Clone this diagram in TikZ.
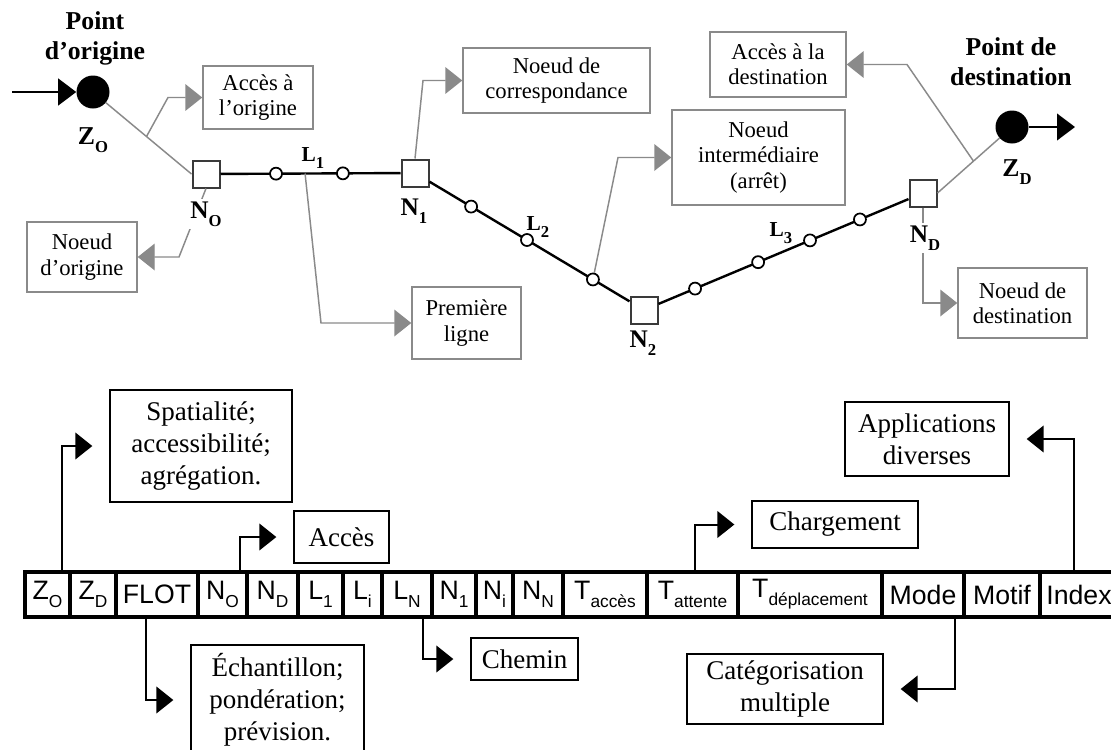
\documentclass[tikz,border=0pt]{standalone}
\usepackage{fontspec}
\setmainfont{Liberation Serif}
\newfontfamily\arialf{Liberation Sans}
\usetikzlibrary{arrows.meta,calc}
\definecolor{cgray}{HTML}{8A8A8A}
\definecolor{sqgray}{HTML}{3A3A3A}
\newcommand\tsub[1]{\raisebox{-0.3em}{\fontsize{13}{13}\selectfont #1}}
\newcommand\lsub[1]{\raisebox{-0.3em}{\fontsize{12.5}{12.5}\selectfont #1}}
\begin{document}
\begin{tikzpicture}[x=0.75pt,y=-0.75pt,
  topbox/.style={draw=cgray, line width=1.1pt, align=center, inner sep=0pt, font=\fontsize{17}{19}\selectfont},
  botbox/.style={draw=black, line width=1.5pt, align=center, inner sep=0pt, font=\fontsize{20.25}{24}\selectfont},
  glink/.style={draw=cgray, line width=1.1pt},
  garrow/.style={glink, -{Triangle[length=12.75pt,width=20pt]}},
  barrow/.style={draw=black, line width=1.5pt, -{Triangle[length=12.75pt,width=20pt]}, shorten >=12.5pt},
  karrow/.style={draw=black, line width=1.5pt, -{Triangle[length=13.5pt,width=20pt]}},
  bigdot/.style={circle, fill=black, inner sep=0pt, minimum size=24.75pt},
  netsq/.style={draw=sqgray, fill=white, line width=1.5pt, inner sep=0pt, minimum size=20.25pt},
  stopc/.style={circle, draw=black, fill=white, line width=1.3pt, inner sep=0pt, minimum size=9pt},
  netline/.style={draw=black, line width=1.8pt},
  blab/.style={font=\bfseries\fontsize{19.3}{22.5}\selectfont, align=center, inner sep=1pt},
  nlab/.style={font=\bfseries\fontsize{19}{19}\selectfont, inner sep=2pt, fill=white},
  llab/.style={font=\bfseries\fontsize{16}{16}\selectfont, inner sep=1pt},
  tcell/.style={draw=black, line width=2.4pt, inner sep=0pt, minimum height=33.75pt, font=\arialf\fontsize{20}{20}\selectfont},
]
\useasboundingbox (0,0) rectangle (1111,750);

% ---------- network ----------
\node[bigdot] (ZO) at (93,92) {};
\node[bigdot] (ZD) at (1012,127) {};
\node[netsq] (NO) at (206,174) {};
\node[netsq] (N1) at (415,173) {};
\node[netsq] (N2) at (644,310) {};
\node[netsq] (ND) at (923,193) {};

\draw[netline] (NO) -- (N1);
\draw[netline] (N1) -- (N2);
\draw[netline] (N2) -- (ND);

\node[stopc] (c1) at ($(NO)!0.335!(N1)$) {};
\node[stopc] (c2) at ($(NO)!0.655!(N1)$) {};
\node[stopc] (c3) at ($(N1)!0.245!(N2)$) {};
\node[stopc] (c4) at ($(N1)!0.489!(N2)$) {};
\node[stopc] (c5) at ($(N1)!0.777!(N2)$) {};
\node[stopc] (c6) at ($(N2)!0.183!(ND)$) {};
\node[stopc] (c7) at ($(N2)!0.409!(ND)$) {};
\node[stopc] (c8) at ($(N2)!0.595!(ND)$) {};
\node[stopc] (c9) at ($(N2)!0.774!(ND)$) {};

\coordinate (inO) at (12,92);
\coordinate (outD) at (1075,127);
\draw[karrow] (inO) -- (ZO);
\draw[karrow] (ZD) -- (outD);

% ---------- top boxes ----------
\node[topbox, minimum width=82.5pt, minimum height=47.25pt] (accO) at (258,97.5) {Accès à\\l’origine};
\node[topbox, minimum width=140.25pt, minimum height=48.75pt] (corr) at (556.5,80.5) {Noeud de\\correspondance};
\node[topbox, minimum width=102pt, minimum height=48.75pt] (accD) at (778,64.5) {Accès à la\\destination};
\node[topbox, minimum width=129.75pt, minimum height=71.25pt] (inter) at (758.5,157.5) {Noeud\\intermédiaire\\(arrêt)};
\node[topbox, minimum width=82.5pt, minimum height=52.5pt] (origN) at (82,257) {Noeud\\d’origine};
\node[topbox, minimum width=81.75pt, minimum height=54pt] (prem) at (466.5,323) {Première\\ligne};
\node[topbox, minimum width=96.75pt, minimum height=52.5pt] (destN) at (1022.5,303) {Noeud de\\destination};

% ---------- gray connectors ----------
\draw[glink] (ZO) -- (NO.west);
\coordinate (bO) at ($(ZO)!0.543!(NO.west)$);
\draw[garrow] (bO) -- (168,97.5) -- (accO.west);

\draw[garrow] (NO.south) -- (179,257) -- (origN.east);

\coordinate (bL1) at ($(NO)!0.474!(N1)$);
\draw[garrow] (bL1) -- (321,323) -- (prem.west);

\draw[garrow] (N1.north) -- (423,80.5) -- (corr.west);

\draw[garrow] (c5) -- (618,157.5) -- (inter.west);

\draw[garrow] (ND.south) -- (923,303) -- (destN.west);

\draw[glink] (ND.east) -- (ZD);
\coordinate (bD) at ($(ND.east)!0.483!(ZD)$);
\draw[garrow] (bD) -- (907,64.5) -- (accD.east);

% ---------- labels ----------
\node[blab] (ptO) at (95,38) {Point\\d’origine};
\node[blab] (ptD) at (1011,62) {Point de\\destination};
\node[blab] (lZO) at (93,140) {Z\lsub{O}};
\node[blab] (lZD) at (1017,172) {Z\lsub{D}};
\node[nlab] (lNO) at (206,214) {N\lsub{O}};
\node[nlab] (lN1) at (414,211) {N\lsub{1}};
\node[nlab] (lN2) at (643,343) {N\lsub{2}};
\node[nlab] (lND) at (925,238) {N\lsub{D}};
\node[llab] (lL1) at (313,158) {L\lsub{1}};
\node[llab] (lL2) at (538,227) {L\lsub{2}};
\node[llab] (lL3) at (781,233) {L\lsub{3}};

% ---------- table ----------
\node[tcell, minimum width=33.75pt] (tZO) at (47.5,594.5) {Z\tsub{O}};
\node[tcell, minimum width=34.5pt] (tZD) at (93,594.5) {Z\tsub{D}};
\node[tcell, minimum width=61.5pt] (tFLOT) at (157,594.5) {FLOT};
\node[tcell, minimum width=36.75pt] (tNO) at (222.5,594.5) {N\tsub{O}};
\node[tcell, minimum width=38.25pt] (tND) at (272.5,594.5) {N\tsub{D}};
\node[tcell, minimum width=33.75pt] (tL1) at (320.5,594.5) {L\tsub{1}};
\node[tcell, minimum width=29.25pt] (tLi) at (362.5,594.5) {L\tsub{i}};
\node[tcell, minimum width=37.5pt] (tLN) at (407,594.5) {L\tsub{N}};
\node[tcell, minimum width=33pt] (tN1) at (454,594.5) {N\tsub{1}};
\node[tcell, minimum width=27.75pt] (tNi) at (494.5,594.5) {N\tsub{i}};
\node[tcell, minimum width=37.5pt] (tNN) at (538,594.5) {N\tsub{N}};
\node[tcell, minimum width=63pt] (tTac) at (605,594.5) {T\tsub{accès}};
\node[tcell, minimum width=68.25pt] (tTat) at (692.5,594.5) {T\tsub{attente}};
\node[tcell, minimum width=108pt] (tTde) at (810,594.5) {T\tsub{déplacement}};
\node[tcell, minimum width=61.5pt] (tMode) at (923,594.5) {Mode};
\node[tcell, minimum width=57pt] (tMotif) at (1002,594.5) {Motif};
\node[tcell, minimum width=58.5pt] (tIdx) at (1079,594.5) {Index};

% ---------- bottom boxes ----------
\node[botbox, minimum width=136.5pt, minimum height=84pt] (spat) at (201,446) {Spatialité;\\accessibilité;\\agrégation.};
\node[botbox, minimum width=71.25pt, minimum height=39pt] (acces) at (341.5,537) {Accès};
\node[botbox, minimum width=124.5pt, minimum height=35.25pt] (charg) at (835,524.5) {Chargement};
\node[botbox, minimum width=123pt, minimum height=55.5pt] (appl) at (927,439) {Applications\\diverses};
\node[botbox, minimum width=129.75pt, minimum height=82.5pt] (echan) at (277.5,700) {Échantillon;\\pondération;\\prévision.};
\node[botbox, minimum width=80.25pt, minimum height=31.5pt] (chemin) at (524.5,659) {Chemin};
\node[botbox, minimum width=147pt, minimum height=52.5pt] (categ) at (785,689) {Catégorisation\\multiple};

% ---------- black connectors ----------
\draw[barrow] ([xshift=10.9pt]tZO.north) |- (spat.west);
\draw[barrow] ([xshift=13.1pt]tNO.north) |- (acces.west);
\draw[barrow] ([xshift=1.9pt]tTat.north) |- (charg.west);
\draw[barrow] ([xshift=-4.1pt]tIdx.north) |- (appl.east);
\draw[barrow] ([xshift=-8.25pt]tFLOT.south) |- (echan.west);
\draw[barrow] ([xshift=12pt]tLN.south) |- (chemin.west);
\draw[barrow] ([xshift=24pt]tMode.south) |- (categ.east);
\end{tikzpicture}
\end{document}
